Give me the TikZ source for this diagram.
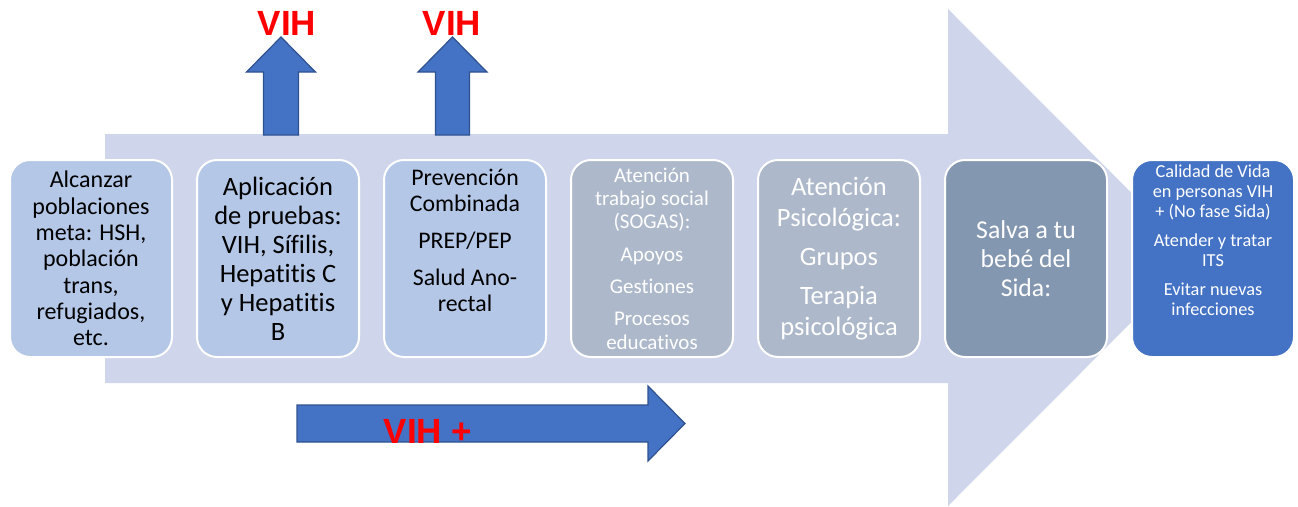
\documentclass[tikz,border=0pt]{standalone}
\usepackage{fontspec}
\setmainfont{Carlito}[Ligatures=NoCommon]
\newfontfamily\arialfont{Liberation Sans}
\usetikzlibrary{positioning}

\definecolor{fondoflecha}{HTML}{CFD5EA}
\definecolor{cajaclara}{HTML}{B4C7E7}
\definecolor{cajagris}{HTML}{ADB9CA}
\definecolor{cajaoscura}{HTML}{8497B0}
\definecolor{azul}{HTML}{4472C4}
\definecolor{bordeazul}{HTML}{2F528F}

\begin{document}
\begin{tikzpicture}[
        x=1pt, y=-1pt,
        etapa/.style={rounded corners=20pt, draw=white, line width=2pt,
            minimum width=162pt, minimum height=197pt, align=center, inner sep=0pt},
        claro/.style={etapa, fill=cajaclara, text=black},
        gris/.style={etapa, fill=cajagris, text=white},
        oscuro/.style={etapa, fill=cajaoscura, text=white},
        final/.style={etapa, fill=azul, text=white},
        bloque/.style={fill=azul, draw=bordeazul, line width=1.2pt},
        vih/.style={text=red, inner sep=0pt, font=\arialfont\bfseries\fontsize{35}{40}\selectfont},
        node distance=23pt
    ]
    \useasboundingbox (0,0) rectangle (1298,506);

    % flecha de fondo
    \fill[fondoflecha] (105,134) -- (948,134) -- (948,9) -- (1196,257.5)
        -- (948,506) -- (948,383) -- (105,383) -- cycle;

    % etapas
    \node[claro, font=\fontsize{24}{26.3}\selectfont] (alcanzar) at (91,258.5)
        {Alcanzar\\poblaciones\\meta: HSH,\\población\\trans,\\refugiados,\\etc.};
    \node[claro, right=of alcanzar, font=\fontsize{26.5}{29}\selectfont] (pruebas)
        {Aplicación\\de pruebas:\\VIH, Sífilis,\\Hepatitis C\\y Hepatitis\\B};
    \node[claro, right=of pruebas, font=\fontsize{23.8}{26}\selectfont] (prevencion)
        {Prevención\\Combinada\\[11pt]PREP/PEP\\[11pt]Salud Ano-\\rectal\\[11pt]~};
    \node[gris, right=of prevencion, font=\fontsize{21}{23.3}\selectfont] (social)
        {Atención\\trabajo social\\(SOGAS):\\[9pt]Apoyos\\[9pt]Gestiones\\[9pt]Procesos\\educativos};
    \node[gris, right=of social, font=\fontsize{26.5}{31}\selectfont] (psico)
        {Atención\\Psicológica:\\[8pt]Grupos\\[8pt]Terapia\\psicológica};
    \node[oscuro, right=of psico, font=\fontsize{25.7}{29}\selectfont] (bebe)
        {Salva a tu\\bebé del\\Sida:};
    \node[final, right=of bebe, font=\fontsize{18.3}{20}\selectfont] (calidad)
        {Calidad de Vida\\en personas VIH\\+ (No fase Sida)\\[9pt]Atender y tratar\\ITS\\[9pt]Evitar nuevas\\infecciones\\[16pt]~};

    % flechas VIH
    \draw[bloque] (263.5,135) -- (263.5,72) -- (246.5,72) -- (281,37) -- (315.5,72)
        -- (298.5,72) -- (298.5,135) -- cycle;
    \draw[bloque] (435.5,135) -- (435.5,72) -- (418,72) -- (452.5,37) -- (487,72)
        -- (469.5,72) -- (469.5,135) -- cycle;
    \node[vih] (vih1) at (287,23) {VIH};
    \node[vih] (vih2) at (452,23) {VIH};

    \draw[bloque] (297,405) -- (648,405) -- (648,386) -- (685,423.5) -- (648,461)
        -- (648,442) -- (297,442) -- cycle;
    \node[vih] (vihpos) at (428,431) {VIH +};
\end{tikzpicture}
\end{document}
